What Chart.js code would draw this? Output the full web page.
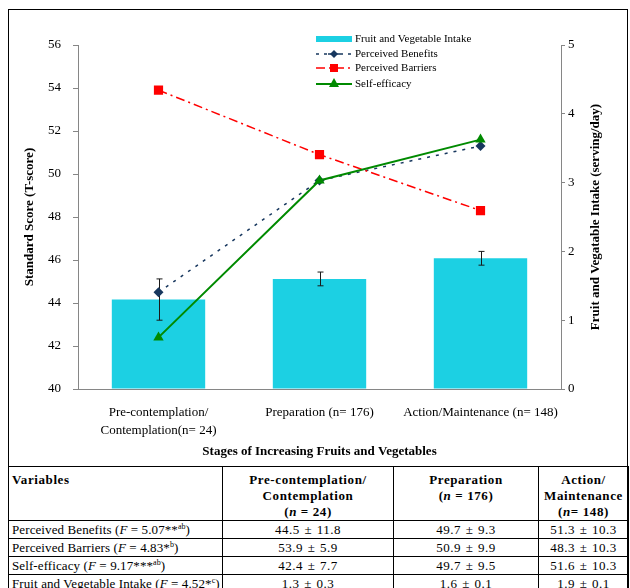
<!DOCTYPE html>
<html><head><meta charset="utf-8">
<script src="https://cdn.jsdelivr.net/npm/chart.js@4.4.1/dist/chart.umd.min.js"></script>
<style>
html,body{margin:0;padding:0;background:#fff;width:630px;height:588px;overflow:hidden;font-family:'Liberation Serif','Times New Roman',serif;}
#frame{position:absolute;left:8px;top:9px;width:620px;height:620px;border-left:1px solid #000;border-top:1px solid #000;border-right:1px solid #000;box-sizing:border-box;}
#c{position:absolute;left:0;top:0;}
table{position:absolute;left:8px;top:466px;width:620px;border-collapse:collapse;font-size:13px;letter-spacing:0.1px;table-layout:fixed;color:#000;}
td,th{border:1px solid #000;padding:0 3px;line-height:16px;height:17px;white-space:nowrap;overflow:hidden;}
th{font-weight:bold;vertical-align:top;padding-top:5px;height:44px;letter-spacing:0.6px;}
th.l{text-align:left;}
td.v{text-align:center;word-spacing:1px;letter-spacing:0.5px;}
sup{font-size:8px;line-height:0;vertical-align:5px;letter-spacing:0;}
</style>
</head><body>
<div id="frame"></div>
<canvas id="c" width="630" height="466"></canvas>
<table id="tbl"></table>
<script>
// ---- data ----
const categories = [["Pre-contemplation/", "Contemplation(n= 24)"], "Preparation (n= 176)", "Action/Maintenance (n= 148)"];
const intake = [1.3, 1.6, 1.9];
const intakeSD = [0.3, 0.1, 0.1];
const benefits = [44.5, 49.7, 51.3];
const benefitsSD = [11.8, 9.3, 10.3];
const barriers = [53.9, 50.9, 48.3];
const barriersSD = [5.9, 9.9, 10.3];
const selfEfficacy = [42.4, 49.7, 51.6];
const selfEfficacySD = [7.7, 9.5, 10.3];
const leftTicks = [40, 42, 44, 46, 48, 50, 52, 54, 56];
const rightTicks = [0, 1, 2, 3, 4, 5];
const tableHeaders = ["Variables", "Pre-contemplation/<br>Contemplation<br>(<i>n</i> = 24)", "Preparation<br>(<i>n</i> = 176)", "Action/<br>Maintenance<br>(<i>n</i>= 148)"];
const tableRowLabels = [
  "Perceived Benefits (<i>F</i> = 5.07**<sup>ab</sup>)",
  "Perceived Barriers (<i>F</i> = 4.83*<sup>b</sup>)",
  "Self-efficacy (<i>F</i> = 9.17***<sup>ab</sup>)",
  "Fruit and Vegetable Intake (<i>F</i> = 4.52*<sup>c</sup>)"
];

// ---- table ----
const tbl = document.getElementById('tbl');
const widths = [214, 171, 145, 90];
let html = '<colgroup>' + widths.map(w => '<col style="width:' + w + 'px">').join('') + '</colgroup>';
html += '<tr>' + tableHeaders.map((h, i) => '<th class="' + (i === 0 ? 'l' : '') + '">' + h + '</th>').join('') + '</tr>';
const means = [benefits, barriers, selfEfficacy, intake];
const sds = [benefitsSD, barriersSD, selfEfficacySD, intakeSD];
tableRowLabels.forEach((lab, r) => {
  html += '<tr><td>' + lab + '</td>' + means[r].map((m, i) => '<td class="v">' + m.toFixed(1) + ' \u00b1 ' + sds[r][i].toFixed(1) + '</td>').join('') + '</tr>';
});
tbl.innerHTML = html;

// ---- chart ----
const FONT = "'Liberation Serif', 'Times New Roman', serif";
const CYAN = '#1CD0E3', NAVY = '#17375E', RED = '#FF0000', GREEN = '#008A00', AXIS = '#868686';
Chart.defaults.font.family = FONT;
Chart.defaults.font.size = 13;
Chart.defaults.color = '#000';

const errorBars = {
  id: 'errorBars',
  afterDatasetDraw(chart, args) {
    if (args.index !== 0) return;
    const ctx = chart.ctx, y1 = chart.scales.y1;
    const meta = chart.getDatasetMeta(0);
    ctx.save();
    ctx.strokeStyle = '#1a1a1a';
    ctx.lineWidth = 1;
    meta.data.forEach((el, i) => {
      const x = Math.round(el.x) + 0.5;
      const yt = y1.getPixelForValue(intake[i] + intakeSD[i]);
      const yb = y1.getPixelForValue(intake[i] - intakeSD[i]);
      ctx.beginPath();
      ctx.moveTo(x, yt); ctx.lineTo(x, yb);
      ctx.moveTo(x - 3, yt); ctx.lineTo(x + 3, yt);
      ctx.moveTo(x - 3, yb); ctx.lineTo(x + 3, yb);
      ctx.stroke();
    });
    ctx.restore();
  }
};

function diamond(ctx, x, y, r, c) {
  ctx.fillStyle = c; ctx.beginPath();
  ctx.moveTo(x, y - r); ctx.lineTo(x + r, y); ctx.lineTo(x, y + r); ctx.lineTo(x - r, y); ctx.closePath(); ctx.fill();
}

const extras = {
  id: 'extras',
  afterDraw(chart) {
    const ctx = chart.ctx, ca = chart.chartArea;
    ctx.save();
    // axis titles
    ctx.fillStyle = '#000';
    ctx.font = 'bold 13px ' + FONT;
    ctx.textAlign = 'center'; ctx.textBaseline = 'middle';
    ctx.fillText('Stages of Increasing Fruits and Vegetables', (ca.left + ca.right) / 2, 452);
    ctx.save(); ctx.translate(30, (ca.top + ca.bottom) / 2); ctx.rotate(-Math.PI / 2);
    ctx.fillText('Standard Score (T-score)', 0, 0); ctx.restore();
    ctx.save(); ctx.translate(596, (ca.top + ca.bottom) / 2); ctx.rotate(-Math.PI / 2);
    ctx.fillText('Fruit and Vegatable Intake (serving/day)', 0, 0); ctx.restore();
    // legend
    const x0 = 316, x1 = 352, xm = 334, tx = 355;
    const rows = [39, 54, 68, 84];
    ctx.font = '11px ' + FONT; ctx.textAlign = 'left';
    ctx.fillStyle = CYAN; ctx.fillRect(x0, rows[0] - 3, x1 - x0, 6);
    ctx.fillStyle = '#000';
    ctx.fillText('Fruit and Vegetable Intake', tx, rows[0]);
    ctx.fillText('Perceived Benefits', tx, rows[1]);
    ctx.fillText('Perceived Barriers', tx, rows[2]);
    ctx.fillText('Self-efficacy', tx, rows[3]);
    ctx.lineWidth = 1.5;
    ctx.strokeStyle = NAVY; ctx.setLineDash([3, 5]);
    ctx.beginPath(); ctx.moveTo(x0, rows[1]); ctx.lineTo(x1, rows[1]); ctx.stroke();
    ctx.setLineDash([]);
    ctx.beginPath(); ctx.moveTo(xm - 6, rows[1]); ctx.lineTo(xm + 6, rows[1]); ctx.stroke();
    diamond(ctx, xm, rows[1], 4, NAVY);
    ctx.strokeStyle = RED; ctx.setLineDash([9, 4, 2, 4]);
    ctx.beginPath(); ctx.moveTo(x0, rows[2]); ctx.lineTo(x1, rows[2]); ctx.stroke();
    ctx.setLineDash([]);
    ctx.fillStyle = RED; ctx.fillRect(xm - 4, rows[2] - 4, 8, 8);
    ctx.strokeStyle = GREEN; ctx.lineWidth = 2;
    ctx.beginPath(); ctx.moveTo(x0, rows[3]); ctx.lineTo(x1, rows[3]); ctx.stroke();
    ctx.fillStyle = GREEN; ctx.beginPath();
    ctx.moveTo(xm, rows[3] - 6); ctx.lineTo(xm + 5, rows[3] + 3); ctx.lineTo(xm - 5, rows[3] + 3); ctx.closePath(); ctx.fill();
    ctx.restore();
  }
};

new Chart(document.getElementById('c'), {
  data: {
    labels: categories,
    datasets: [
      { type: 'bar', label: 'Fruit and Vegetable Intake', data: intake, yAxisID: 'y1', backgroundColor: CYAN,
        categoryPercentage: 1, barPercentage: 0.58, order: 10 },
      { type: 'line', label: 'Perceived Benefits', data: benefits, yAxisID: 'y', borderColor: NAVY, backgroundColor: NAVY,
        borderWidth: 1.5, borderDash: [3, 6], pointStyle: 'rectRot', pointRadius: 5, pointBorderWidth: 0, order: 3, tension: 0 },
      { type: 'line', label: 'Perceived Barriers', data: barriers, yAxisID: 'y', borderColor: RED, backgroundColor: RED,
        borderWidth: 1.5, borderDash: [9, 4, 2, 4], pointStyle: 'rect', pointRadius: 6.5, pointBorderWidth: 0, order: 2, tension: 0 },
      { type: 'line', label: 'Self-efficacy', data: selfEfficacy, yAxisID: 'y', borderColor: GREEN, backgroundColor: GREEN,
        borderWidth: 2, pointStyle: 'triangle', pointRadius: 6, pointBorderWidth: 0, order: 1, tension: 0 }
    ]
  },
  options: {
    responsive: false, animation: false, devicePixelRatio: 1,
    layout: { padding: { left: 0, right: 0, top: 45, bottom: 0 } },
    plugins: { legend: { display: false }, tooltip: { enabled: false }, title: { display: false } },
    scales: {
      x: {
        type: 'category', offset: true,
        grid: { display: false, drawTicks: false },
        border: { display: true, color: AXIS, width: 1 },
        ticks: { padding: 14, maxRotation: 0, autoSkip: false, font: { size: 13, lineHeight: 1.4 } },
        afterFit(s) { s.height = 77; }
      },
      y: {
        position: 'left', min: 40, max: 56,
        afterBuildTicks(s) { s.ticks = leftTicks.map(v => ({ value: v })); },
        grid: { drawOnChartArea: false, drawTicks: true, tickLength: 5, color: AXIS },
        border: { display: true, color: AXIS },
        ticks: { padding: 12, font: { size: 13 } },
        afterFit(s) { s.width = 78; }
      },
      y1: {
        position: 'right', min: 0, max: 5,
        afterBuildTicks(s) { s.ticks = rightTicks.map(v => ({ value: v })); },
        grid: { drawOnChartArea: false, drawTicks: true, tickLength: 4, color: AXIS },
        border: { display: true, color: AXIS },
        ticks: { padding: 3, font: { size: 13 } },
        afterFit(s) { s.width = 69; }
      }
    }
  },
  plugins: [errorBars, extras]
});
</script>
</body></html>
